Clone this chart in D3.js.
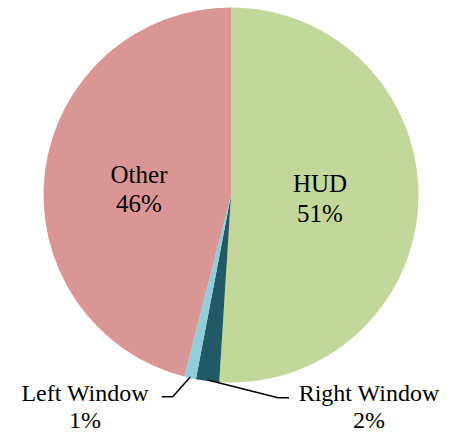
<!DOCTYPE html>
<html>
<head>
<meta charset="utf-8">
<script src="https://cdn.jsdelivr.net/npm/d3@7"></script>
</head>
<body style="margin:0">
<svg id="chart" width="450" height="434"></svg>
<script>
// Share of glances by display area (percent)
const categories = ["HUD", "Right Window", "Left Window", "Other"];
const shares = [51, 2, 1, 46];
const colors = ["#c4d79b", "#215967", "#92cddc", "#da9694"];

const svg = d3.select("#chart");
const cx = 231, cy = 195, r = 187.5;

const pie = d3.pie().sort(null).value(d => d.value);
const arcs = pie(categories.map((c, i) => ({ name: c, value: shares[i], color: colors[i] })));
const arc = d3.arc().innerRadius(0).outerRadius(r);

const g = svg.append("g").attr("transform", `translate(${cx},${cy})`);

g.selectAll("path.slice")
  .data(arcs)
  .join("path")
  .attr("class", "slice")
  .attr("d", arc)
  .attr("fill", d => d.data.color);

// Label placement per slice: inside labels for the large slices,
// outside labels with leader lines for the thin ones.
const labelLayout = {
  "HUD":          { x: 320, y: 192, gap: 30, size: 25 },
  "Other":        { x: 139, y: 183, gap: 29, size: 25 },
  "Left Window":  { x: 85,  y: 401, gap: 27, size: 24, elbow: [[172.7, 396.7], [161.7, 396.7]] },
  "Right Window": { x: 369, y: 401, gap: 27, size: 24, elbow: [[278, 397.7], [289, 397.7]] }
};

const pctFmt = d => `${Math.round(d.value)}%`;

const lines = [];
arcs.forEach(d => {
  const L = labelLayout[d.data.name];
  if (L.elbow) {
    const mid = (d.startAngle + d.endAngle) / 2;
    const start = [cx + Math.sin(mid) * (r - 1), cy - Math.cos(mid) * (r - 1)];
    svg.append("path")
      .attr("d", d3.line()([start, ...L.elbow]))
      .attr("fill", "none")
      .attr("stroke", "#000")
      .attr("stroke-width", 1.5);
  }
  [d.data.name, pctFmt(d.data)].forEach((txt, i) => {
    lines.push({ txt, x: L.x, y: L.y + i * L.gap, size: L.size });
  });
});

svg.selectAll("text.label")
  .data(lines)
  .join("text")
  .attr("class", "label")
  .attr("x", d => d.x)
  .attr("y", d => d.y)
  .attr("text-anchor", "middle")
  .attr("font-size", d => d.size)
  .style("font-family", () => `"Times New Roman", "Liberation Serif", Tinos, "Noto Serif CJK SC", serif`)
  .text(d => d.txt);
</script>
</body>
</html>
